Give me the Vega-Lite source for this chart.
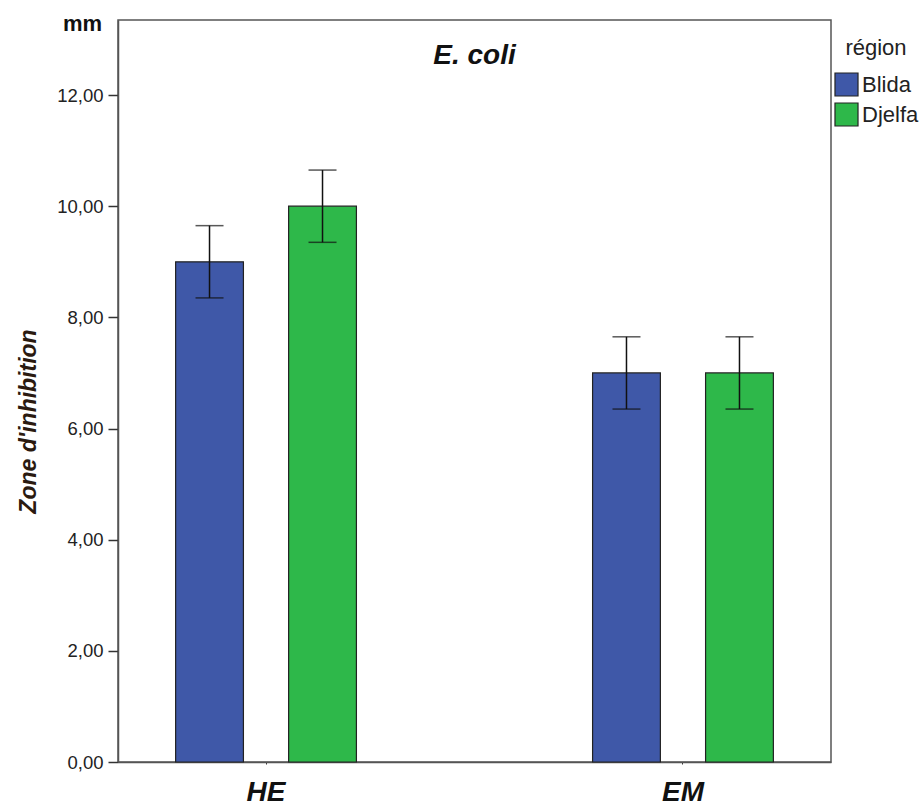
{
  "$schema": "https://vega.github.io/schema/vega-lite/v6.json",
  "width": 713,
  "height": 742,
  "autosize": "none",
  "padding": {"left": 118, "top": 20, "right": 90, "bottom": 43},
  "background": "white",
  "config": {
    "font": "Liberation Sans",
    "view": {"stroke": "#555", "strokeWidth": 1.5}
  },
  "title": {
    "text": "E. coli",
    "anchor": "middle",
    "frame": "group",
    "offset": -55,
    "dy": 31,
    "baseline": "bottom",
    "fontSize": 28,
    "fontStyle": "italic",
    "fontWeight": "bold",
    "color": "#111"
  },
  "data": {
    "values": [
      {"produit": "HE", "region": "Blida", "moyenne": 9.0, "bas": 8.35, "haut": 9.65},
      {"produit": "HE", "region": "Djelfa", "moyenne": 10.0, "bas": 9.35, "haut": 10.65},
      {"produit": "EM", "region": "Blida", "moyenne": 7.0, "bas": 6.35, "haut": 7.65},
      {"produit": "EM", "region": "Djelfa", "moyenne": 7.0, "bas": 6.35, "haut": 7.65}
    ]
  },
  "encoding": {
    "x": {
      "field": "produit",
      "type": "nominal",
      "sort": ["HE", "EM"],
      "scale": {"paddingInner": 0.458, "paddingOuter": 0.084},
      "axis": {
        "title": null,
        "labelAngle": 0,
        "labelFontSize": 28,
        "labelFontWeight": "bold",
        "labelFontStyle": "italic",
        "labelColor": "#111",
        "labelPadding": 14,
        "tickSize": 2,
        "tickColor": "#333",
        "domainColor": "#555",
        "domainWidth": 1.5,
        "grid": false
      }
    },
    "xOffset": {
      "field": "region",
      "type": "nominal",
      "sort": ["Blida", "Djelfa"],
      "scale": {"paddingInner": 0.4, "paddingOuter": 0.2}
    }
  },
  "layer": [
    {
      "mark": {"type": "bar", "stroke": "#222", "strokeWidth": 1.2},
      "encoding": {
        "y": {
          "field": "moyenne",
          "type": "quantitative",
          "scale": {"domain": [0, 13.35], "nice": false, "zero": true},
          "axis": {
            "title": "Zone d'inhibition",
            "titleFontSize": 23,
            "titleFontWeight": "bold",
            "titleFontStyle": "italic",
            "titleColor": "#2a1a10",
            "titleAngle": -90,
            "titleX": -90,
            "titleY": 401,
            "titleAlign": "center",
            "titleBaseline": "middle",
            "values": [0, 2, 4, 6, 8, 10, 12],
            "labelExpr": "replace(format(datum.value, '.2f'), '.', ',')",
            "labelFontSize": 18.5,
            "labelColor": "#222",
            "labelPadding": 5,
            "tickSize": 10,
            "tickColor": "#333",
            "tickWidth": 1.5,
            "domainColor": "#555",
            "domainWidth": 1.5,
            "grid": false
          }
        },
        "color": {
          "field": "region",
          "type": "nominal",
          "sort": ["Blida", "Djelfa"],
          "scale": {"domain": ["Blida", "Djelfa"], "range": ["#3f58a8", "#2eb84a"]},
          "legend": {
            "title": "région",
            "orient": "none",
            "legendX": 716,
            "legendY": 18,
            "titleFontSize": 22,
            "titleFontWeight": "normal",
            "titleColor": "#222",
            "titleAnchor": "middle",
            "titlePadding": 12,
            "labelFontSize": 22,
            "labelColor": "#222",
            "labelOffset": 3,
            "symbolType": "square",
            "symbolSize": 530,
            "symbolStrokeColor": "#222",
            "symbolStrokeWidth": 1.2,
            "symbolOpacity": 1,
            "rowPadding": 1,
            "padding": 0
          }
        }
      }
    },
    {
      "mark": {"type": "rule", "color": "#111", "strokeWidth": 1.5},
      "encoding": {
        "y": {
          "field": "bas",
          "type": "quantitative",
          "axis": {
            "orient": "left",
            "title": "mm",
            "titleAngle": 0,
            "titleX": -36,
            "titleY": 3,
            "titleAlign": "center",
            "titleBaseline": "middle",
            "titleFontSize": 22,
            "titleFontWeight": "bold",
            "titleColor": "#111",
            "labels": false,
            "ticks": false,
            "domain": false,
            "grid": false
          }
        },
        "y2": {"field": "haut"}
      }
    },
    {
      "mark": {"type": "tick", "color": "#111", "thickness": 1.5, "size": 28},
      "encoding": {
        "y": {"field": "bas", "type": "quantitative", "axis": null}
      }
    },
    {
      "mark": {"type": "tick", "color": "#111", "thickness": 1.5, "size": 28},
      "encoding": {
        "y": {"field": "haut", "type": "quantitative", "axis": null}
      }
    }
  ],
  "resolve": {"axis": {"y": "independent"}}
}
